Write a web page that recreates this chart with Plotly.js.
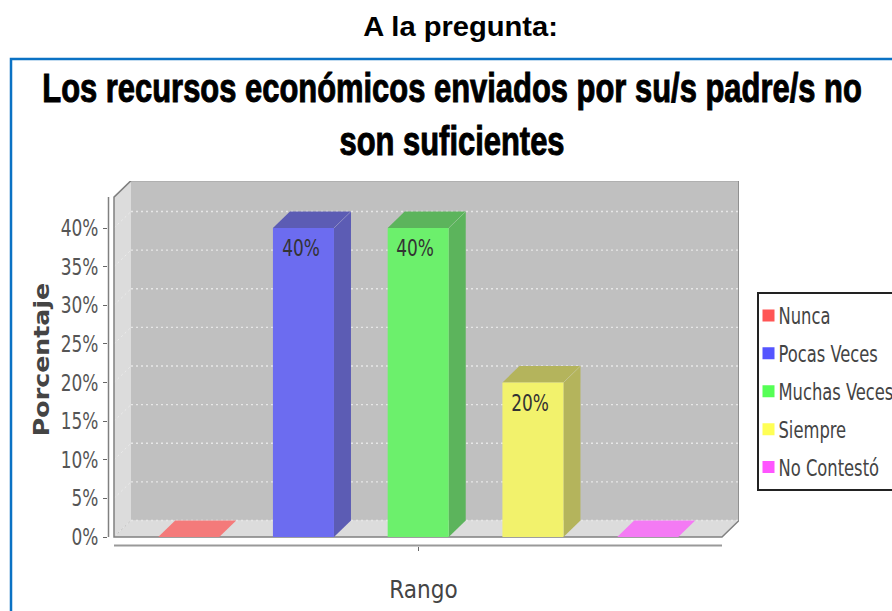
<!DOCTYPE html>
<html><head><meta charset="utf-8">
<script src="https://cdn.plot.ly/plotly-3.0.0.min.js"></script>
<style>html,body{margin:0;padding:0;background:#fff;overflow:hidden}</style>
</head><body><div id="chart" style="width:892px;height:611px"></div>
<script>
const categories = ['Nunca','Pocas Veces','Muchas Veces','Siempre','No Contestó'];
const values = [0,40,40,20,0];
const valueLabels = ['','40%','40%','20%',''];
const yTicks = [0,5,10,15,20,25,30,35,40];
const yTickLabels = ['0%','5%','10%','15%','20%','25%','30%','35%','40%'];
const legendColors = ['#ff5555','#5555ff','#55ff55','#ffff55','#ff55ff'];
const frontColors = ['#f47a7a','#6c6cf0','#6cf06c','#f2f26c','#f47af4'];
const shadeColors = ['#b45c5c','#5c5cb4','#5cb45c','#b4b45c','#b45cb4'];
const COND = '"DejaVu Sans Condensed","DejaVu Sans",sans-serif';
const ARIAL = '"Liberation Sans",Arial,sans-serif';

const L=108,R=739,T=181,B=546;
const xUnit=114.75,yUnit=7.725;
const x0px=188.7,y0px=537;
const dx=17/xUnit,dy=16.5/yUnit,barW=0.532;
const xRange=[(L-x0px)/xUnit,(R-x0px)/xUnit];
const yRange=[(y0px-B)/yUnit,(y0px-T)/yUnit];
const frontTop=44;
const xFL=(114-x0px)/xUnit,xFR=(722-x0px)/xUnit;
const px=v=>(v-L)/(R-L), py=v=>(B-v)/(B-T);

const poly=(pts,fill,line,w)=>({type:'path',xref:'x',yref:'y',layer:'below',
  path:'M'+pts.map(p=>p[0]+','+p[1]).join('L')+'Z',fillcolor:fill,
  line:{color:line||fill,width:w===undefined?0:w}});
const seg=(a,b,c,col,w,dash)=>({type:'line',xref:'x',yref:'y',layer:'below',x0:a,y0:b,x1:c[0],y1:c[1],line:{color:col,width:w,dash:dash||'solid'}});

const shapes=[
  poly([[xFL,0],[xFL+dx,dy],[xFL+dx,frontTop+dy],[xFL,frontTop]],'#dcdcdc'),
  poly([[xFL,0],[xFR,0],[xFR+dx,dy],[xFL+dx,dy]],'#dcdcdc'),
  poly([[xFL+dx,dy],[xFR+dx,dy],[xFR+dx,frontTop+dy],[xFL+dx,frontTop+dy]],'#c0c0c0')
];
yTicks.forEach(t=>{
  shapes.push(seg(xFL+dx,t+dy,[xFR+dx,t+dy],'#e6e6e6',1.3,'2px,3px'));
  if(t>0) shapes.push(seg(xFL,t,[xFL+dx,t+dy],'#ececec',1,'2px,3px'));
});
shapes.push(seg(xFL,0,[xFL+dx,dy],'#c0c0c0',1,'2px,3px'));
shapes.push(
  {type:'path',xref:'x',yref:'y',layer:'below',fillcolor:'rgba(0,0,0,0)',line:{color:'#808080',width:1.5},
   path:`M${xFL},${frontTop}L${xFL+dx},${frontTop+dy}L${xFR+dx},${frontTop+dy}L${xFR+dx},${dy}L${xFR},0L${xFL},0Z`}
);
values.forEach((v,i)=>{
  const a=i-barW/2,b=i+barW/2;
  shapes.push(poly([[a,v],[b,v],[b+dx,v+dy],[a+dx,v+dy]], v===0?frontColors[i]:shadeColors[i]));
  if(v>0){
    shapes.push(poly([[b,0],[b+dx,dy],[b+dx,v+dy],[b,v]],shadeColors[i]));
    shapes.push(seg(b,v,[b+dx,v+dy],'rgba(255,255,255,0.18)',1));
  }
});
shapes.push({type:'line',xref:'paper',yref:'y',x0:px(108.5),x1:px(108.5),y0:0,y1:frontTop,line:{color:'#808080',width:1.5}});
shapes.push({type:'line',xref:'x',yref:'paper',x0:xFL,x1:xFR,y0:py(545.5),y1:py(545.5),line:{color:'#999999',width:2}});
shapes.push({type:'path',xref:'paper',yref:'paper',fillcolor:'rgba(0,0,0,0)',line:{color:'#0a72c4',width:2.5},
  path:`M${px(11)},${py(611)}L${px(11)},${py(59)}L${px(892)},${py(59)}`});

const bars=categories.map((c,i)=>({type:'bar',x:[i],y:[values[i]],width:barW,name:c,showlegend:false,
  marker:{color:frontColors[i],line:{width:0}},hoverinfo:'skip'}));
const legendItems=categories.map((c,i)=>({type:'bar',x:[null],y:[null],name:c,legendgroup:c,
  marker:{color:legendColors[i]}}));
const annotations=[{text:'<b>A la pregunta:</b>',xref:'paper',yref:'paper',x:px(460),y:py(26),showarrow:false,
  xanchor:'center',yanchor:'middle',font:{family:ARIAL,size:28,color:'#000'}}];
values.forEach((v,i)=>{ if(valueLabels[i]) annotations.push({text:valueLabels[i],x:i-0.025,y:v-2.6,xref:'x',yref:'y',
  showarrow:false,xanchor:'center',yanchor:'middle',font:{family:COND,size:23,color:'#333'}});});

const layout={
  width:892,height:611,paper_bgcolor:'#fff',plot_bgcolor:'#fff',barmode:'overlay',
  margin:{l:L,r:892-R,t:T,b:611-B,pad:0,autoexpand:false},
  font:{family:COND,color:'#555'},
  title:{text:'<b>Los recursos económicos enviados por su/s padre/s no<br>son suficientes</b>',
    xref:'container',yref:'container',x:452/892,xanchor:'center',y:1-102/611,yanchor:'top',
    font:{family:ARIAL,size:41,color:'#000'}},
  xaxis:{range:xRange,tickmode:'array',tickvals:[2],ticktext:[''],ticks:'outside',ticklen:4,tickcolor:'#666',
    showgrid:false,zeroline:false,showline:false,
    title:{text:'Rango',standoff:28,font:{family:COND,size:24,color:'#444'}}},
  yaxis:{range:yRange,tickmode:'array',tickvals:yTicks,ticktext:yTickLabels,ticks:'outside',ticklen:4,tickcolor:'#666',
    showgrid:false,zeroline:false,showline:false,tickfont:{family:COND,size:23,color:'#555'},
    title:{text:'<b>Porcentaje</b>',standoff:2,font:{family:'"DejaVu Sans",sans-serif',size:22,color:'#444'}}},
  legend:{x:px(756.5),y:py(292),xanchor:'left',yanchor:'top',bgcolor:'#fff',bordercolor:'#222',borderwidth:2,
    traceorder:'grouped',tracegroupgap:5,font:{family:COND,size:23,color:'#444'},itemclick:false,itemdoubleclick:false},
  shapes,annotations
};

// the source image is a horizontally squeezed raster: narrow real text around its anchor
function squeeze(el,sx,shift){
  const x=parseFloat(el.getAttribute('x'))||0, old=el.getAttribute('transform')||'';
  el.setAttribute('transform',`translate(${x+(shift||0)},0) scale(${sx},1) translate(${-x},0) ${old}`);
}
const each=(sel,fn)=>document.querySelectorAll(sel).forEach(fn);
Plotly.newPlot('chart',bars.concat(legendItems),layout,{displayModeBar:false,staticPlot:true}).then(()=>{
  const title=document.querySelector('.gtitle');
  squeeze(title,820/title.getBBox().width);
  title.style.stroke='#000';
  title.style.strokeWidth='1px';
  each('.ytick text',t=>squeeze(t,0.82));
  each('.legendtext',t=>squeeze(t,0.79,-20));
  each('.legendpoints',g=>g.setAttribute('transform','translate(-10,0) '+(g.getAttribute('transform')||'')));
  each('.annotation-text',t=>squeeze(t,/%/.test(t.textContent)?0.82:1.04));
  const yt=document.querySelector('.ytitle'), cy=parseFloat(yt.getAttribute('y'))||363;
  yt.setAttribute('transform',`translate(6,${cy-4}) scale(1,1.15) translate(0,${-cy}) `+(yt.getAttribute('transform')||''));
});
</script></body></html>
